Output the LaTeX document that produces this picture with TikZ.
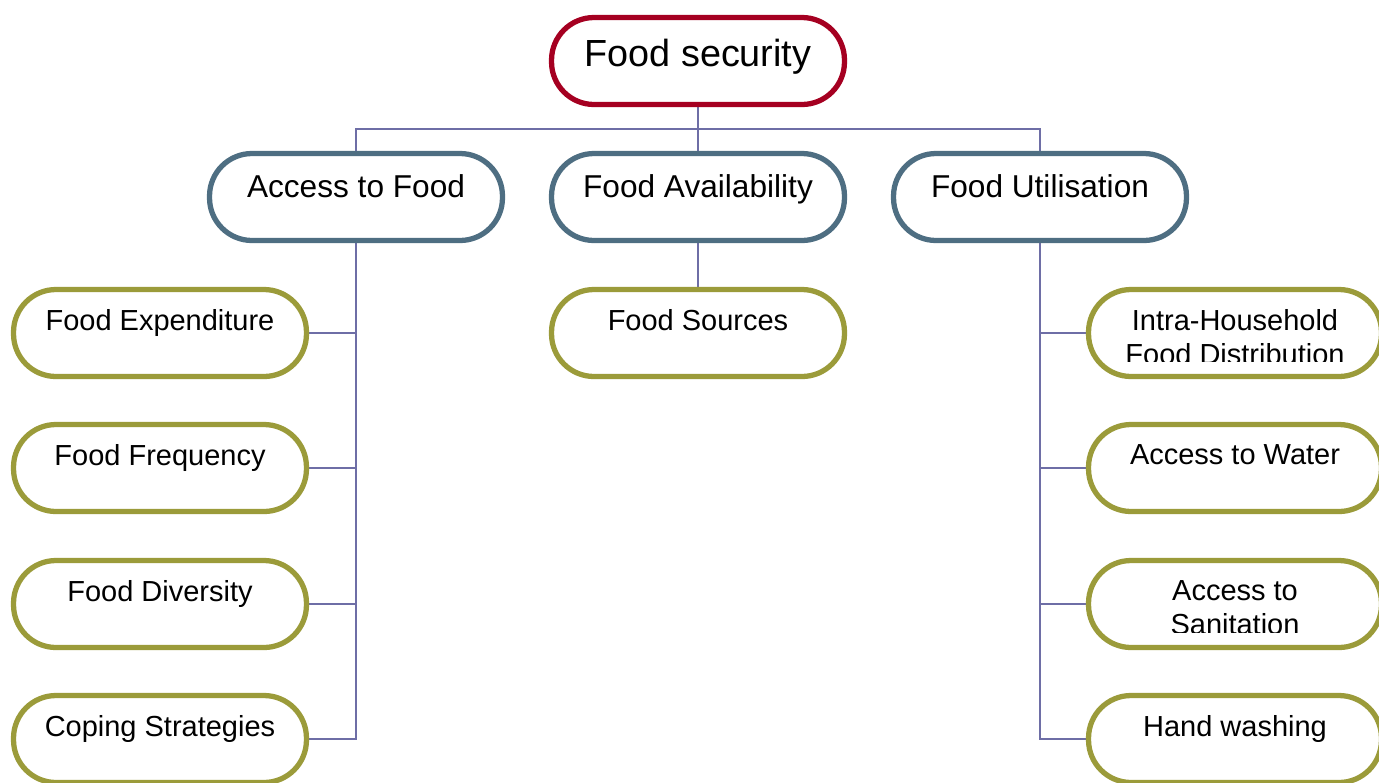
\documentclass[tikz,border=0pt]{standalone}
\usepackage{fontspec}
\setmainfont{Liberation Sans}
\usetikzlibrary{positioning, backgrounds}

\definecolor{rootred}{HTML}{A50021}
\definecolor{pillarblue}{HTML}{4E6E82}
\definecolor{leafolive}{HTML}{9B9B3A}
\definecolor{linkslate}{HTML}{6E6EA6}

\begin{document}
\begin{tikzpicture}[
    x=0.02cm, y=-0.02cm,
    pill/.style={
        rectangle,
        rounded corners=0.85cm,
        line width=3pt,
        fill=white,
        minimum width=5.86cm,
        minimum height=1.74cm
    },
    root/.style={pill, draw=rootred},
    pillar/.style={pill, draw=pillarblue},
    leaf/.style={pill, draw=leafolive},
    rootlbl/.style={inner sep=0pt, font=\fontsize{21.5}{25}\selectfont},
    pillarlbl/.style={inner sep=0pt, font=\fontsize{18}{21}\selectfont},
    leaflbl/.style={inner sep=0pt, align=center, font=\fontsize{16.5}{19.3}\selectfont},
    link/.style={draw=linkslate, line width=1.1pt}
]

% page frame
\clip (0,0) rectangle (1379,782);

% ===== Root =====
\node[root] (fs) at (698,61) {};
\node[rootlbl, below=0.48cm of fs.north] (fs-t) {Food security};

% ===== Pillars =====
\node[pillar] (af) at (356,197) {};
\node[pillar] (fa) at (698,197) {};
\node[pillar] (fu) at (1040,197) {};
\node[pillarlbl, below=0.46cm of af.north] (af-t) {Access to Food};
\node[pillarlbl, below=0.46cm of fa.north] (fa-t) {Food Availability};
\node[pillarlbl, below=0.46cm of fu.north] (fu-t) {Food Utilisation};

% ===== Access to food indicators =====
\node[leaf] (fe) at (160,333) {};
\node[leaf] (ff) at (160,468) {};
\node[leaf] (fd) at (160,604) {};
\node[leaf] (cs) at (160,739) {};
\node[leaflbl, below=0.45cm of fe.north] (fe-t) {Food Expenditure};
\node[leaflbl, below=0.45cm of ff.north] (ff-t) {Food Frequency};
\node[leaflbl, below=0.45cm of fd.north] (fd-t) {Food Diversity};
\node[leaflbl, below=0.45cm of cs.north] (cs-t) {Coping Strategies};

% ===== Availability indicator =====
\node[leaf] (src) at (698,333) {};
\node[leaflbl, below=0.45cm of src.north] (src-t) {Food Sources};

% ===== Utilisation indicators =====
\node[leaf] (ih) at (1235,333) {};
\node[leaf] (aw) at (1235,468) {};
\node[leaf] (as) at (1235,604) {};
\node[leaf] (hw) at (1235,739) {};
% the two-line labels are cut off inside their boxes
\begin{scope}
    \clip (ih.north west) rectangle ([yshift=-1.49cm]ih.north east);
    \node[leaflbl, below=0.45cm of ih.north] (ih-t) {Intra-Household\\Food Distribution};
\end{scope}
\node[leaflbl, below=0.45cm of aw.north] (aw-t) {Access to Water};
\begin{scope}
    \clip (as.north west) rectangle ([yshift=-1.49cm]as.north east);
    \node[leaflbl, below=0.45cm of as.north] (as-t) {Access to\\Sanitation};
\end{scope}
\node[leaflbl, below=0.45cm of hw.north] (hw-t) {Hand washing};

% ===== Connectors =====
\begin{scope}[on background layer]
    \coordinate (bus) at (698,129);
    \draw[link] (fs.south) -- (fa.north);
    \draw[link] (bus) -| (af.north);
    \draw[link] (bus) -| (fu.north);
    \draw[link] (fa.south) -- (src.north);
    \foreach \leaf in {fe, ff, fd, cs}
        \draw[link] (af.south) |- (\leaf.east);
    \foreach \leaf in {ih, aw, as, hw}
        \draw[link] (fu.south) |- (\leaf.west);
\end{scope}

\end{tikzpicture}
\end{document}
